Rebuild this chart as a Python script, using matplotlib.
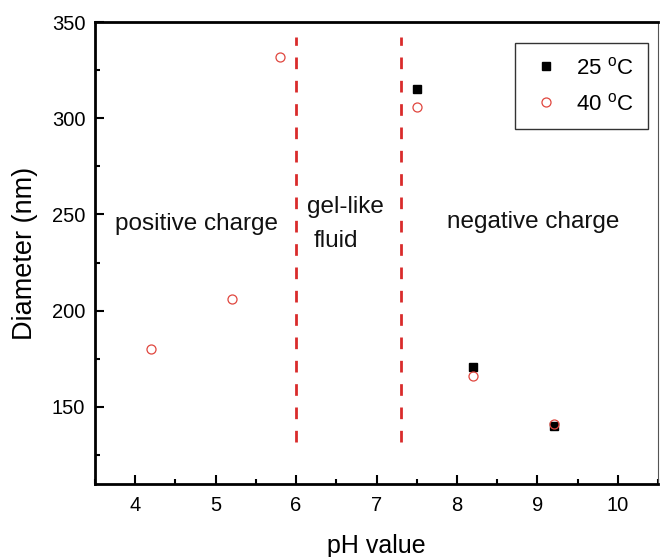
import matplotlib
matplotlib.use("Agg")
import matplotlib.pyplot as plt
from matplotlib.ticker import MultipleLocator

plt.rcParams["font.family"] = ["Liberation Sans", "DejaVu Sans"]
plt.rcParams["mathtext.fontset"] = "custom"
plt.rcParams["mathtext.rm"] = "Liberation Sans"

# --- Data --------------------------------------------------------------------

ph_25 = [7.5, 8.2, 9.2]
diam_25 = [315, 171, 140]

ph_40 = [4.2, 5.2, 5.8, 7.5, 8.2, 9.2]
diam_40 = [180, 206, 332, 306, 166, 141]

boundaries = [6.0, 7.3]
boundary_span = (132, 342)

region_labels = [
    ("positive charge", 3.75, 242),
    ("gel-like", 6.14, 251),
    ("fluid", 6.22, 233),
    ("negative charge", 7.87, 243),
]

# --- Style -------------------------------------------------------------------

DASH_RED = "#d92b2b"
CIRCLE_RED = "#e0463e"
TICK_SIZE = 14.5
LABEL_SIZE = 18

fig = plt.figure(figsize=(6.61, 5.57), dpi=100)
ax = fig.add_axes([0.1437, 0.1311, 0.852, 0.8294])

for x in boundaries:
    ax.vlines(x, *boundary_span, colors=DASH_RED, linewidth=2.0,
              linestyles=(0, (4.2, 4.2)), zorder=2)

ax.plot(ph_25, diam_25, linestyle="none", marker="s", markersize=6,
        color="black", label=r"25 $^{\mathrm{o}}$C", zorder=3)
ax.plot(ph_40, diam_40, linestyle="none", marker="o", markersize=6.5,
        markerfacecolor="none", markeredgecolor=CIRCLE_RED,
        markeredgewidth=0.9, label=r"40 $^{\mathrm{o}}$C", zorder=4)

for text, x, y in region_labels:
    ax.text(x, y, text, fontsize=17.5, ha="left", va="baseline",
            color="#111111")

ax.set_xlim(3.5, 10.5)
ax.set_ylim(110, 350)
ax.xaxis.set_major_locator(MultipleLocator(1))
ax.xaxis.set_minor_locator(MultipleLocator(0.5))
ax.yaxis.set_major_locator(MultipleLocator(50))
ax.yaxis.set_minor_locator(MultipleLocator(25))
ax.set_yticks([150, 200, 250, 300, 350])

ax.tick_params(which="both", direction="in", top=False, right=False,
               width=1.5, labelsize=TICK_SIZE, color="black")
ax.tick_params(which="major", length=6.5, pad=7)
ax.tick_params(axis="x", which="major", pad=9)
ax.tick_params(which="minor", length=3.6)

for side in ("left", "bottom", "top"):
    ax.spines[side].set_linewidth(2.0)
ax.spines["right"].set_linewidth(0.8)
ax.spines["right"].set_color("#555555")

ax.set_xlabel("pH value", fontsize=LABEL_SIZE, labelpad=13)
ax.set_ylabel("Diameter (nm)", fontsize=LABEL_SIZE + 1.5, labelpad=10)

leg = ax.legend(loc="upper right", bbox_to_anchor=(0.982, 0.955),
                fontsize=16, frameon=True, fancybox=False,
                edgecolor="black", borderpad=0.64, handlelength=1.5,
                handletextpad=0.6, labelspacing=0.63, borderaxespad=0)
leg.get_frame().set_linewidth(1.0)

fig.savefig("out.png", dpi=100, facecolor="white")
